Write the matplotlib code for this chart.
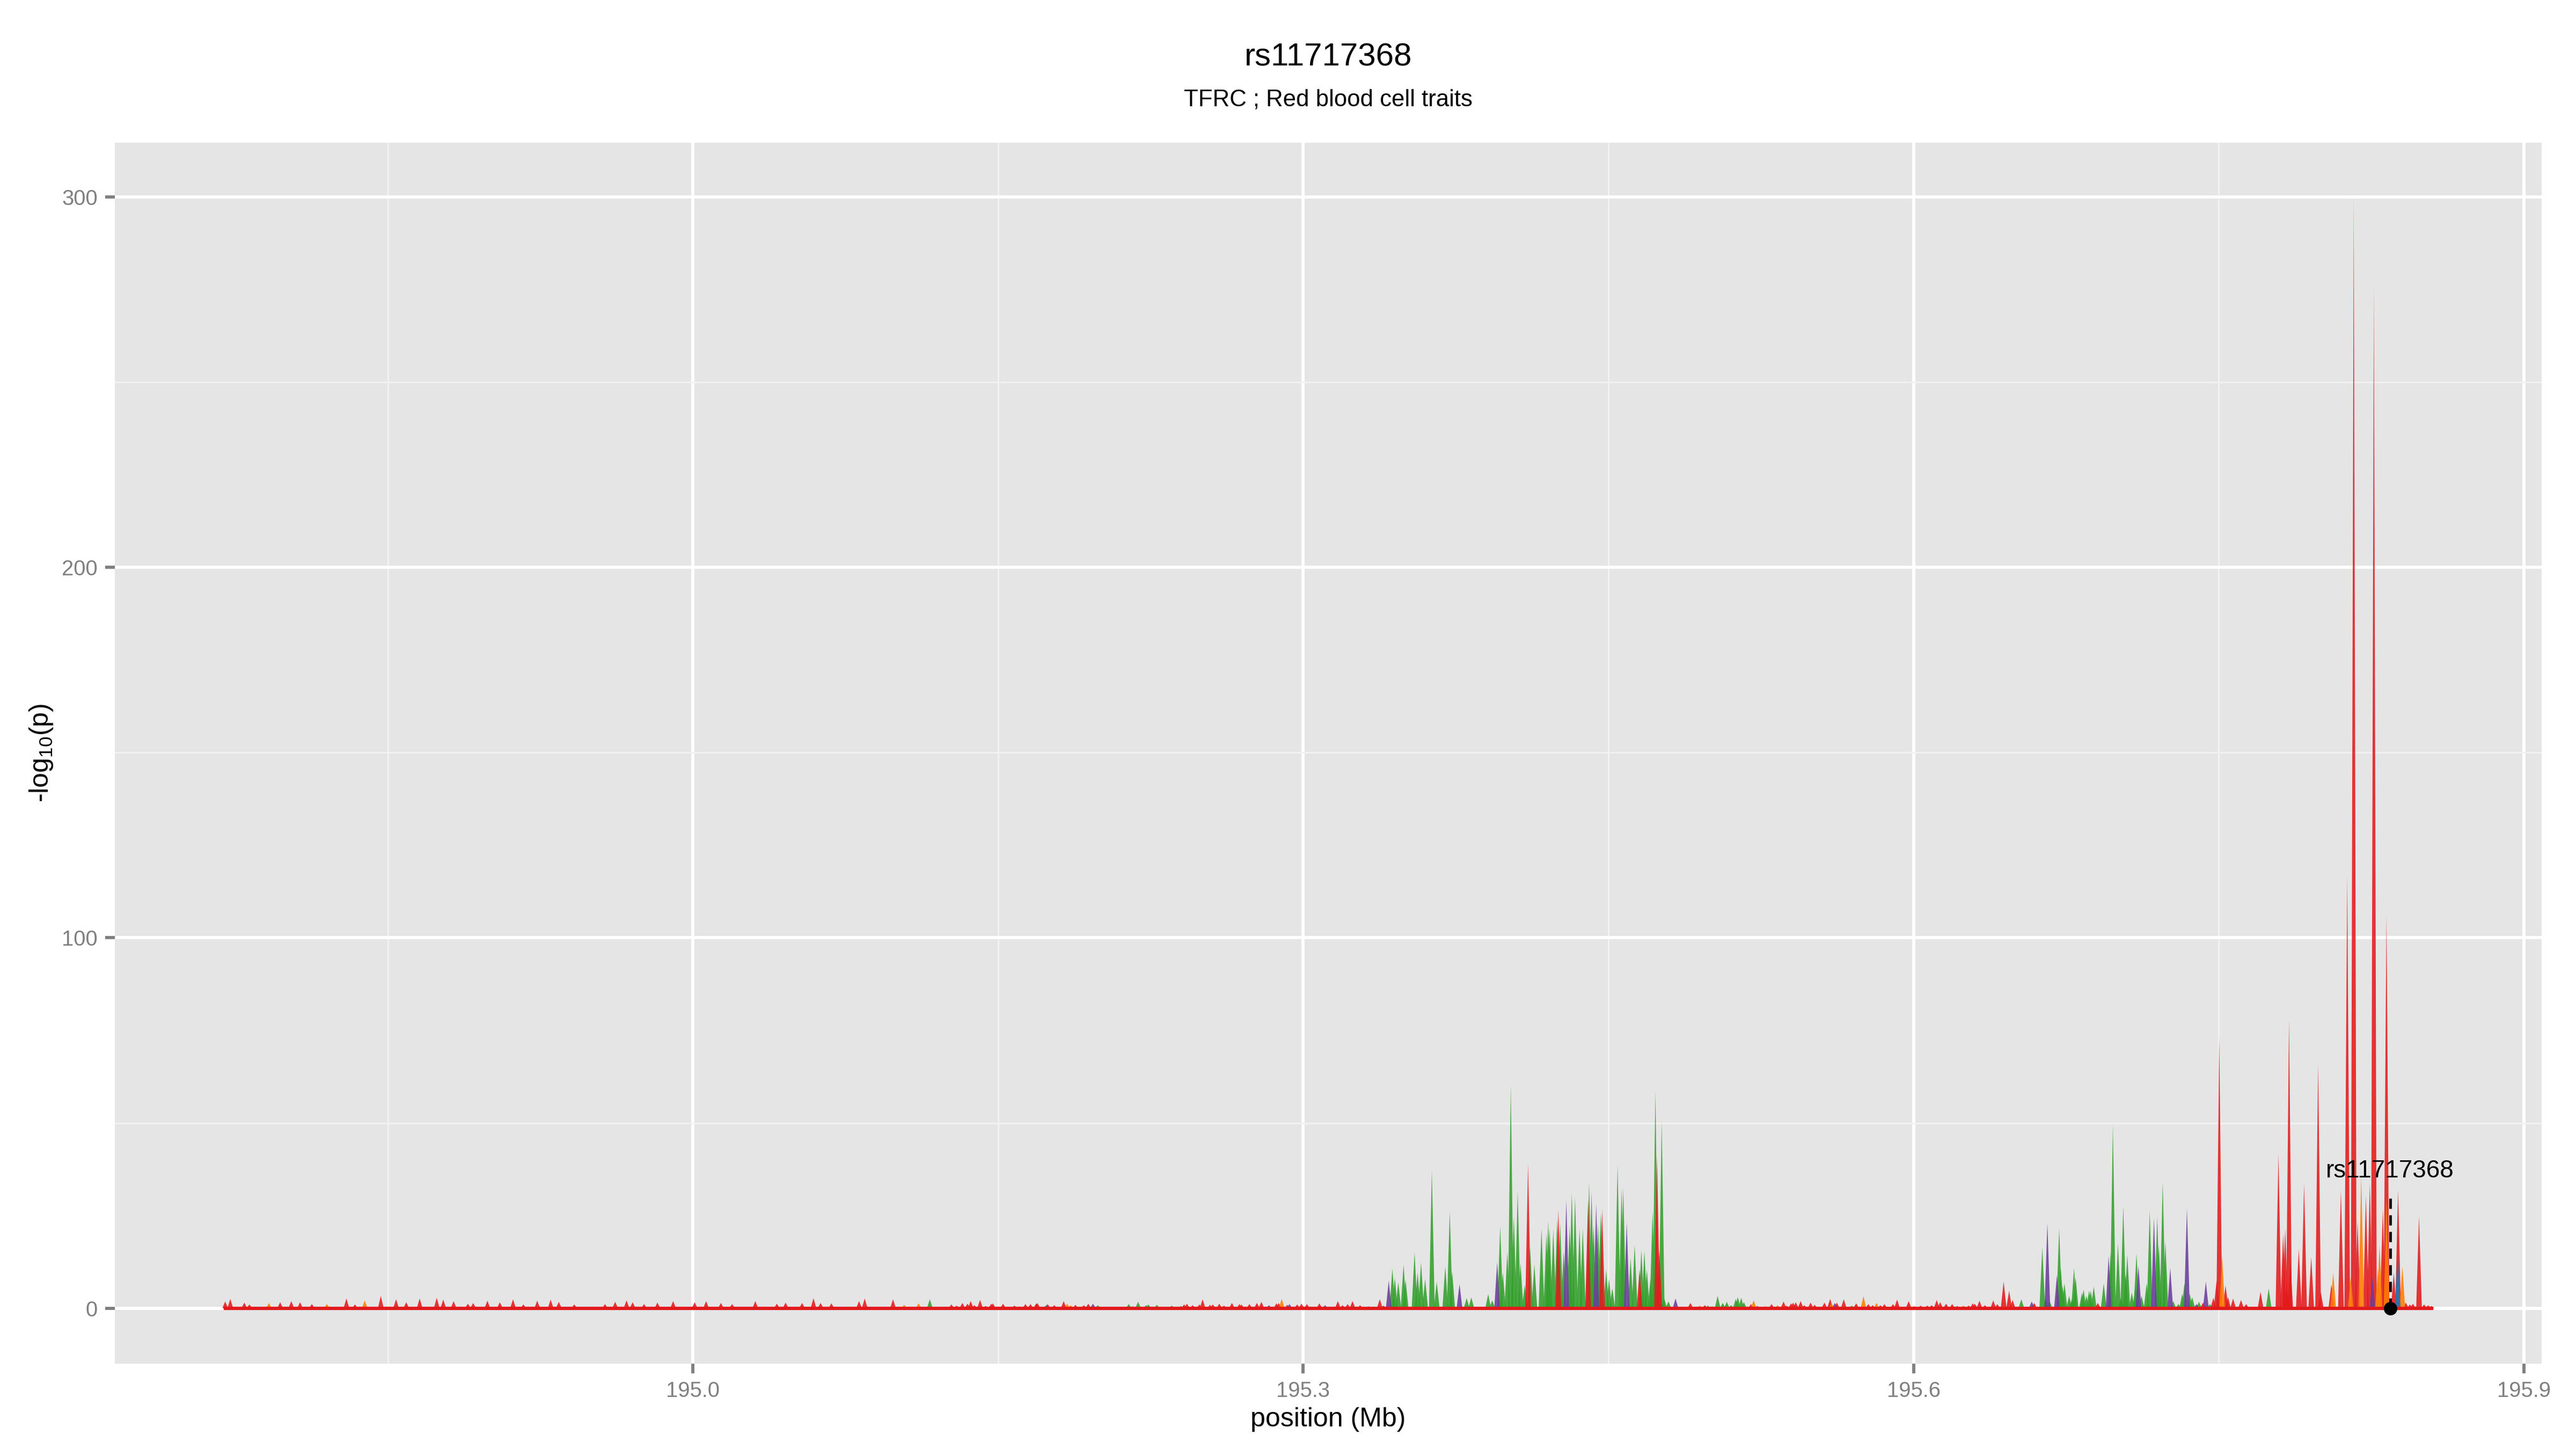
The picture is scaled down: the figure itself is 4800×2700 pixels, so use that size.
# Regional association plot around rs11717368 (TFRC, red blood cell traits)
import numpy as np
import matplotlib.pyplot as plt

plt.rcParams['font.family'] = ['Liberation Sans', 'DejaVu Sans']
plt.rcParams['mathtext.fontset'] = 'custom'
plt.rcParams['mathtext.rm'] = 'Liberation Sans'
plt.rcParams['mathtext.default'] = 'regular'

# ---- data: SNP position (Mb) and -log10(p), one pair of lists per colour ----
red_pos = [
    # left background
    194.7700, 194.7725, 194.7794, 194.7819, 194.7970, 194.8025, 194.8068, 194.8126, 194.8296, 194.8338,
    194.8465, 194.8540, 194.8590, 194.8656, 194.8740, 194.8772, 194.8823, 194.8893, 194.8919, 194.8989,
    194.9050, 194.9115, 194.9166, 194.9234, 194.9300, 194.9340, 194.9416, 194.9567, 194.9617, 194.9673,
    194.9703, 194.9759, 194.9825, 194.9902, 195.0008, 195.0064, 195.0137, 195.0192, 195.0306, 195.0412,
    195.0455, 195.0536, 195.0592, 195.0627, 195.0680, 195.0816, 195.0844, 195.0983, 195.1270, 195.1296,
    195.1324, 195.1349, 195.1365, 195.1383, 195.1411, 195.1438, 195.1466, 195.1474, 195.1524, 195.1580,
    195.1634, 195.1659, 195.1687, 195.1693, 195.1743, 195.1776, 195.1822, 195.1880, 195.1921, 195.1943,
    195.2414, 195.2428, 195.2456, 195.2489, 195.2505, 195.2541, 195.2555, 195.2587, 195.2610, 195.2649,
    195.2686, 195.2696, 195.2735, 195.2772, 195.2794, 195.2868, 195.2879, 195.2921, 195.2970, 195.2991,
    195.3018, 195.3079, 195.3170, 195.3193, 195.3218, 195.3242, 195.3279, 195.3320, 195.3376, 195.3394,
    # inside the green cluster
    195.4105, 195.4254, 195.4400, 195.4469, 195.4653, 195.4739, 195.4750, 195.4903,
    # middle background
    195.4974, 195.5201, 195.5232, 195.5272, 195.5302, 195.5361, 195.5376, 195.5398, 195.5408, 195.5421,
    195.5445, 195.5463, 195.5494, 195.5514, 195.5562, 195.5590, 195.5623, 195.5657, 195.5718, 195.5778,
    195.5799, 195.5837, 195.5857, 195.5899, 195.5919, 195.5976, 195.6035, 195.6067, 195.6089, 195.6114,
    195.6131, 195.6160, 195.6190, 195.6215, 195.6271, 195.6291, 195.6301, 195.6324, 195.6351, 195.6392,
    195.6412,
    # right peaks
    195.6443, 195.6470, 195.6487, 195.6593, 195.6906, 195.7423, 195.7474, 195.7490, 195.7503, 195.7534,
    195.7546, 195.7571, 195.7610, 195.7635, 195.7706, 195.7794, 195.7817, 195.7827, 195.7834, 195.7846,
    195.7852, 195.7894, 195.7920, 195.7955, 195.7989, 195.8002, 195.8054, 195.8101, 195.8132, 195.8164,
    195.8183, 195.8224, 195.8243, 195.8263, 195.8307, 195.8320, 195.8325, 195.8361, 195.8382, 195.8420,
    195.8440, 195.8455, 195.8485, 195.8510, 195.8530, 195.8546,
]
red_val = [
    1.8, 2.5, 1.5, 1.0, 1.6, 1.9, 1.6, 1.1, 2.6, 1.0,
    3.3, 2.4, 1.6, 2.6, 2.8, 2.3, 1.9, 1.2, 1.4, 2.0,
    1.6, 2.4, 1.0, 2.0, 2.3, 1.7, 1.0, 1.1, 1.7, 2.1,
    1.6, 1.1, 1.5, 1.9, 1.6, 1.9, 1.4, 1.1, 1.9, 1.2,
    1.5, 1.4, 2.7, 1.4, 1.3, 1.9, 2.6, 2.4, 1.0, 0.7,
    1.4, 1.2, 1.9, 0.8, 2.2, 0.6, 1.2, 1.3, 1.2, 0.7,
    1.1, 1.1, 1.3, 1.4, 1.1, 0.8, 1.9, 0.9, 0.8, 1.2,
    1.0, 1.2, 0.8, 1.0, 2.4, 0.9, 1.0, 1.2, 0.7, 1.4,
    1.1, 1.0, 1.1, 1.4, 1.7, 1.3, 1.4, 0.9, 1.0, 1.2,
    1.1, 1.3, 1.9, 0.8, 1.1, 1.9, 0.8, 0.5, 2.4, 0.7,
    39.0, 26.5, 29.3, 26.8, 10.4, 40.9, 15.7, 1.4,
    0.8, 1.1, 0.6, 0.5, 1.1, 1.8, 0.7, 1.3, 1.5, 1.6,
    1.9, 0.8, 1.5, 0.9, 1.5, 2.5, 1.5, 2.4, 1.3, 1.1,
    0.8, 0.8, 1.1, 1.1, 2.3, 1.9, 0.7, 0.7, 0.8, 2.2,
    1.6, 1.2, 1.1, 0.6, 0.7, 1.3, 1.2, 2.0, 0.8, 2.1,
    1.1,
    7.2, 4.7, 2.2, 1.4, 1.4, 1.5, 2.8, 7.5, 73.3, 6.1,
    3.0, 2.6, 2.2, 1.1, 4.4, 41.6, 20.0, 21.4, 6.4, 78.0,
    12.8, 16.0, 33.6, 13.8, 65.9, 4.3, 6.4, 31.9, 116.9, 299.7,
    23.4, 30.4, 33.6, 275.7, 26.6, 22.3, 106.3, 9.6, 31.9, 1.5,
    1.0, 1.2, 24.9, 1.0, 0.8, 0.6,
]

green_pos = [
    195.1164, 195.1990, 195.2031, 195.2073, 195.2142, 195.2162, 195.2188, 195.2227, 195.2238, 195.2280,
    195.2335, 195.2353, 195.2398,
    # main green cluster
    195.3438, 195.3450, 195.3467, 195.3493, 195.3503, 195.3547, 195.3562, 195.3579, 195.3599, 195.3632,
    195.3656, 195.3698, 195.3720, 195.3732, 195.3803, 195.3826, 195.3909, 195.3929, 195.3968, 195.3981,
    195.4003, 195.4020, 195.4035, 195.4054, 195.4068, 195.4089, 195.4115, 195.4136, 195.4171, 195.4195,
    195.4204, 195.4211, 195.4229, 195.4248, 195.4263, 195.4280, 195.4309, 195.4320, 195.4336, 195.4358,
    195.4374, 195.4405, 195.4417, 195.4427, 195.4449, 195.4462, 195.4489, 195.4503, 195.4519, 195.4545,
    195.4565, 195.4573, 195.4609, 195.4629, 195.4662, 195.4677, 195.4689, 195.4707, 195.4717, 195.4731,
    195.4762, 195.4774, 195.4795,
    # small cluster
    195.4989, 195.5010, 195.5037, 195.5062, 195.5082, 195.5103, 195.5126, 195.5136, 195.5153, 195.5166,
    195.5696,
    # second cluster
    195.6530, 195.6633, 195.6649, 195.6669, 195.6716, 195.6724, 195.6732, 195.6742, 195.6765, 195.6779,
    195.6789, 195.6797, 195.6828, 195.6836, 195.6850, 195.6863, 195.6871, 195.6886, 195.6935, 195.6969,
    195.6980, 195.7005, 195.7020, 195.7031, 195.7043, 195.7051, 195.7073, 195.7091, 195.7096, 195.7121,
    195.7146, 195.7161, 195.7198, 195.7206, 195.7225, 195.7238, 195.7277, 195.7302, 195.7321, 195.7332,
    195.7358, 195.7370, 195.7403, 195.7457, 195.7746,
]
green_val = [
    2.4, 0.8, 0.1, 0.1, 1.1, 0.5, 1.7, 0.8, 1.0, 0.9,
    0.4, 0.7, 0.6,
    10.7, 8.2, 7.0, 11.8, 7.6, 15.1, 9.6, 12.4, 7.9, 37.3,
    7.1, 11.3, 26.2, 9.9, 2.7, 2.9, 3.8, 2.1, 22.1, 9.6,
    15.1, 60.3, 24.8, 31.6, 12.1, 6.3, 16.5, 11.8, 21.5, 20.1,
    23.5, 21.5, 21.2, 24.0, 22.9, 15.4, 22.1, 31.2, 30.0, 21.5,
    21.5, 34.1, 31.5, 22.4, 22.9, 25.7, 10.4, 7.9, 5.4, 38.7,
    32.4, 32.4, 13.5, 17.1, 15.7, 15.4, 10.4, 7.9, 26.2, 58.7,
    50.4, 2.7, 1.8,
    0.7, 0.5, 3.3, 1.4, 1.7, 0.8, 2.5, 3.0, 2.8, 1.6,
    0.7,
    2.4, 16.4, 2.5, 1.9, 21.6, 10.8, 6.1, 6.7, 3.3, 2.5,
    10.8, 8.3, 4.2, 5.0, 3.3, 4.7, 4.7, 5.8, 6.7, 15.0,
    49.5, 17.5, 2.8, 27.6, 9.2, 14.4, 4.2, 6.1, 14.7, 3.3,
    6.7, 26.3, 24.7, 16.9, 34.2, 18.0, 1.9, 1.1, 3.9, 6.7,
    3.9, 3.0, 1.7, 1.1, 5.3,
]

purple_pos = [195.1966, 195.2831, 195.2932, 195.3107, 195.3420, 195.3768, 195.3953, 195.4293, 195.4440,
              195.4590, 195.4830, 195.5613, 195.6581, 195.6658, 195.6705, 195.6959, 195.7106, 195.7182,
              195.7262, 195.7344, 195.7391, 195.7437, 195.8256]
purple_val = [1.2, 0.8, 1.1, 0.8, 7.4, 6.5, 12.4, 29.2, 28.2,
              23.2, 2.6, 1.4, 1.8, 23.0, 8.9, 14.1, 11.4, 24.4,
              10.9, 27.0, 1.1, 7.2, 8.5]

orange_pos = [194.7915, 194.8200, 194.8386, 195.1038, 195.1109, 195.1604, 195.1839, 195.1856, 195.2894,
              195.4949, 195.5214, 195.5332, 195.5597, 195.5754, 195.5818, 195.6003, 195.6245, 195.7517,
              195.8063, 195.8149, 195.8201, 195.8283, 195.8291, 195.8325, 195.8403]
orange_val = [1.4, 1.1, 2.1, 0.9, 1.3, 0.5, 1.2, 0.8, 2.5,
              0.7, 2.1, 0.8, 1.3, 3.2, 1.4, 0.6, 0.7, 14.1,
              9.6, 8.5, 35.7, 10.6, 17.0, 30.0, 11.3]

blue_pos = [195.1736, 195.8380]
blue_val = [0.8, 15.0]

snp_name = 'rs11717368'
snp_pos = 195.8343
snp_line_top = 29.8
snp_label_y = 37.0

title = 'rs11717368'
subtitle = 'TFRC ; Red blood cell traits'

series = [
    (green_pos, green_val, '#33A02C'),
    (red_pos, red_val, '#E31A1C'),
    (purple_pos, purple_val, '#6A3D9A'),
    (orange_pos, orange_val, '#FF7F00'),
    (blue_pos, blue_val, '#1F78B4'),
]

# ---- figure ----
fig = plt.figure(figsize=(16, 9), dpi=300)
ax = fig.add_axes([0.0446, 0.0589, 0.9421, 0.8426])
ax.set_facecolor('#E5E5E5')
for s in ax.spines.values():
    s.set_visible(False)

half = 0.0014  # half width of each spike in Mb
for pos, val, col in series:
    for x, v in zip(pos, val):
        ax.fill([x - half, x, x + half], [0, v, 0], color=col, alpha=0.88, lw=0, zorder=2)

# baseline of the area under the red trace
ax.plot([min(red_pos), max(red_pos)], [0, 0], color='#E31A1C', lw=1.5, zorder=2.5)

# highlighted SNP
ax.plot([snp_pos, snp_pos], [0, snp_line_top], color='black', lw=1.2, dashes=(3.8, 2.4), zorder=4)
ax.plot([snp_pos], [0], 'o', color='black', ms=5, zorder=5)
ax.text(snp_pos, snp_label_y, snp_name, ha='center', va='center', fontsize=11, color='black', zorder=5)

all_pos = [p for s in series for p in s[0]]
all_val = [v for s in series for v in s[1]]
xlo, xhi = min(all_pos), max(all_pos)
ymax = max(all_val)
ax.set_xlim(xlo - 0.05 * (xhi - xlo), xhi + 0.05 * (xhi - xlo))
ax.set_ylim(-0.05 * ymax, 1.05 * ymax)

ax.set_xticks([195.0, 195.3, 195.6, 195.9])
ax.set_xticklabels(['195.0', '195.3', '195.6', '195.9'])
ax.set_xticks([194.85, 195.15, 195.45, 195.75], minor=True)
ax.set_yticks([0, 100, 200, 300])
ax.set_yticks([50, 150, 250], minor=True)
ax.grid(which='major', color='white', lw=1.42, zorder=1)
ax.grid(which='minor', color='#F2F2F2', lw=0.71, zorder=1)
ax.set_axisbelow(True)
ax.tick_params(which='major', length=4.25, width=1.4, color='#7F7F7F',
               labelcolor='#7F7F7F', labelsize=9.6, pad=3.5)
ax.tick_params(which='minor', length=0)

ax.set_xlabel('position (Mb)', fontsize=12, labelpad=2.5)
fig.text(0.016, 0.4804, '-log$_{10}$(p)', rotation=90, ha='center', va='center', fontsize=12)

fig.text(0.5156, 0.9605, title, ha='center', va='center', fontsize=14.4)
fig.text(0.5156, 0.9310, subtitle, ha='center', va='center', fontsize=10.5)

fig.savefig('out.png', dpi=300)
